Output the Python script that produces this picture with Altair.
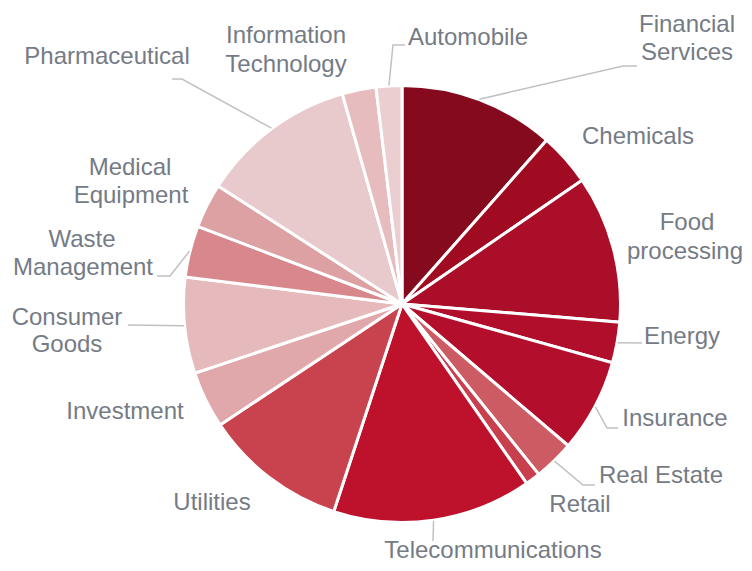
import math
import altair as alt
import pandas as pd

# ---- data -------------------------------------------------------------
categories = [
    "Financial Services", "Chemicals", "Food processing", "Energy",
    "Insurance", "Real Estate", "Retail", "Telecommunications", "Utilities",
    "Investment", "Consumer Goods", "Waste Management", "Medical Equipment",
    "Pharmaceutical", "Information Technology", "Automobile",
]
values = [11.5, 3.9, 10.9, 3.0, 6.9, 3.0, 1.1, 14.7, 10.6, 4.2, 7.1, 3.8, 3.3, 11.5, 2.5, 1.9]
colors = [
    "#850A1E", "#A00B22", "#AA0E28", "#B00E2B", "#B30F2C", "#CD5B63",
    "#C8404E", "#BE112C", "#C9434F", "#E0A8AB", "#E6B9BC", "#D8888C",
    "#DDA0A3", "#E9CACC", "#E6BCBF", "#EBCED0",
]

# ---- layout (page coordinates, converted to chart coordinates) ---------
MARGIN = 8
CX, CY = 402 - MARGIN, 304 - MARGIN
R = 218.5
LEADER_R = 219

label_lines = [
    ("Financial Services", "Financial", 687, 25),
    ("Financial Services", "Services", 687, 53),
    ("Chemicals", "Chemicals", 638, 137),
    ("Food processing", "Food", 687, 223),
    ("Food processing", "processing", 685, 252),
    ("Energy", "Energy", 682, 337),
    ("Insurance", "Insurance", 675, 419),
    ("Real Estate", "Real Estate", 661, 476),
    ("Retail", "Retail", 580, 505),
    ("Telecommunications", "Telecommunications", 493, 551),
    ("Utilities", "Utilities", 212, 503),
    ("Investment", "Investment", 125, 412),
    ("Consumer Goods", "Consumer", 67, 318),
    ("Consumer Goods", "Goods", 67, 345),
    ("Waste Management", "Waste", 82, 240),
    ("Waste Management", "Management", 83, 268),
    ("Medical Equipment", "Medical", 130, 168),
    ("Medical Equipment", "Equipment", 131, 196),
    ("Pharmaceutical", "Pharmaceutical", 107, 57),
    ("Information Technology", "Information", 286, 36),
    ("Information Technology", "Technology", 286, 65),
    ("Automobile", "Automobile", 468, 38),
]

# leader elbows / ends (page coords); start is at the slice mid-angle
leader_pts = {
    "Automobile": [(393, 45), (405, 45)],
    "Financial Services": [(623, 66), (637, 66)],
    "Pharmaceutical": [(182, 79), (172, 79)],
    "Waste Management": [(170, 276), (157, 276)],
    "Consumer Goods": [(128, 325)],
    "Energy": [(642, 343)],
    "Insurance": [(607, 428), (618, 428)],
    "Real Estate": [(583, 485), (595, 485)],
    "Telecommunications": [(433, 541)],
}

# ---- tables -------------------------------------------------------------
df = pd.DataFrame({"category": categories, "value": values, "idx": range(len(categories))})

total = sum(values)
mid_angle = {}
acc = 0.0
for c, v in zip(categories, values):
    mid_angle[c] = (acc + v / 2) / total * 2 * math.pi
    acc += v

rows = []
for c, pts in leader_pts.items():
    a = mid_angle[c]
    rows.append({"cat": c, "p": 0, "x": CX + LEADER_R * math.sin(a), "y": CY - LEADER_R * math.cos(a)})
    for i, (px, py) in enumerate(pts, start=1):
        rows.append({"cat": c, "p": i, "x": px - MARGIN, "y": py - MARGIN})
leaders = pd.DataFrame(rows)

labels = pd.DataFrame(
    [{"cat": c, "text": t, "x": x - MARGIN, "y": y - MARGIN} for c, t, x, y in label_lines]
)

# ---- chart ----------------------------------------------------------------
pie = alt.Chart(df).mark_arc(outerRadius=R, stroke="white", strokeWidth=3).encode(
    theta=alt.Theta("value:Q", stack=True),
    color=alt.Color("category:N", scale=alt.Scale(domain=categories, range=colors), legend=None),
    order=alt.Order("idx:Q"),
    x=alt.value(CX),
    y=alt.value(CY),
)

lines = alt.Chart(leaders).mark_line(color="#BFC1C5", strokeWidth=1.5).encode(
    x=alt.X("x:Q", scale=None),
    y=alt.Y("y:Q", scale=None),
    detail="cat:N",
    order="p:Q",
)

text = alt.Chart(labels).mark_text(
    font="Liberation Sans", fontSize=24, color="#757B85", align="center", baseline="middle"
).encode(
    x=alt.X("x:Q", scale=None),
    y=alt.Y("y:Q", scale=None),
    text="text:N",
)

chart = alt.layer(pie, lines, text).properties(
    width=736, height=555, autosize=alt.AutoSizeParams(type="none"), padding=0
).configure_view(stroke=None)

chart.save("out.html", embed_options={"renderer": "svg", "actions": False})
